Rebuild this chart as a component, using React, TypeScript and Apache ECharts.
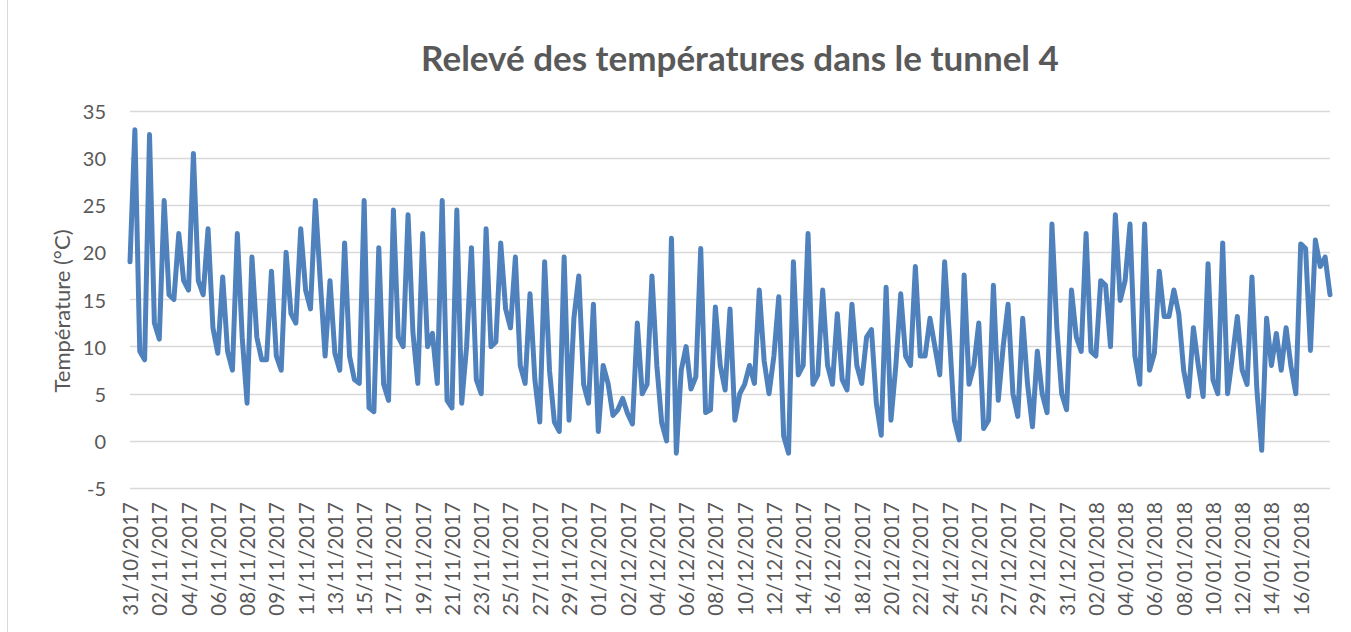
import React, { useEffect, useRef } from "react";
import * as echarts from "echarts";

const titleText = "Relevé des températures dans le tunnel 4";
const yAxisName = "Température (°C)";

const tickLabels = [
  "31/10/2017", "02/11/2017", "04/11/2017", "06/11/2017", "08/11/2017",
  "09/11/2017", "11/11/2017", "13/11/2017", "15/11/2017", "17/11/2017",
  "19/11/2017", "21/11/2017", "23/11/2017", "25/11/2017", "27/11/2017",
  "29/11/2017", "01/12/2017", "02/12/2017", "04/12/2017", "06/12/2017",
  "08/12/2017", "10/12/2017", "12/12/2017", "14/12/2017", "16/12/2017",
  "18/12/2017", "20/12/2017", "22/12/2017", "24/12/2017", "25/12/2017",
  "27/12/2017", "29/12/2017", "31/12/2017", "02/01/2018", "04/01/2018",
  "06/01/2018", "08/01/2018", "10/01/2018", "12/01/2018", "14/01/2018",
  "16/01/2018",
];

// readings between two consecutive tick labels
const readingsPerLabel = 6;

const temperatures = [
  19, 33, 9.5, 8.6, 32.5, 12.5, 10.8, 25.5, 15.5, 15,
  22, 17, 16, 30.5, 17, 15.5, 22.5, 12, 9.3, 17.4,
  9.5, 7.5, 22, 11, 4, 19.5, 11, 8.6, 8.6, 18,
  9, 7.5, 20, 13.5, 12.5, 22.5, 16, 14, 25.5, 17,
  9, 17, 9.3, 7.5, 21, 9, 6.5, 6.1, 25.5, 3.5,
  3.1, 20.5, 6, 4.3, 24.5, 11, 10, 24, 11.5, 6.1,
  22, 10, 11.4, 6.1, 25.5, 4.3, 3.5, 24.5, 4, 10,
  20.5, 6.5, 5, 22.5, 10, 10.5, 21, 14, 12, 19.5,
  8, 6.1, 15.6, 6.5, 2, 19, 7.5, 2, 1, 19.5,
  2.2, 13, 17.5, 6, 4, 14.5, 1, 8, 6.1, 2.7,
  3.3, 4.5, 2.9, 1.8, 12.5, 5, 6, 17.5, 8, 1.9,
  0, 21.5, -1.3, 7.5, 10, 5.5, 6.8, 20.4, 3, 3.3,
  14.2, 8, 5.4, 14, 2.2, 5, 6, 8, 6.1, 16,
  8.5, 5, 9, 15.3, 0.5, -1.3, 19, 7, 8, 22,
  6, 7, 16, 8, 6, 13.5, 6.5, 5.4, 14.5, 8,
  6.1, 11, 11.8, 4, 0.6, 16.3, 2.2, 8, 15.6, 9,
  8, 18.5, 9, 9, 13, 10, 7, 19, 11, 2.2,
  0.1, 17.6, 6, 8, 12.5, 1.3, 2.2, 16.5, 4.3, 10,
  14.5, 5, 2.6, 13, 6, 1.5, 9.5, 5, 3, 23,
  12, 5, 3.3, 16, 11, 9.5, 22, 9.5, 9, 17,
  16.5, 10, 24, 14.9, 17, 23, 9, 6, 23, 7.5,
  9.3, 18, 13.2, 13.2, 16, 13.5, 7.5, 4.7, 12, 8,
  4.7, 18.8, 6.5, 5, 21, 5, 8.9, 13.2, 7.5, 6,
  17.4, 5.5, -1, 13, 8, 11.4, 7.5, 12, 7.9, 5,
  20.9, 20.4, 9.6, 21.3, 18.5, 19.5, 15.5,
];

const yMin = -5;
const yMax = 35;
const yStep = 5;

const FONT = "Lato, 'Open Sans', sans-serif";
const GREY = "#595959";

export default function App() {
  const ref = useRef<HTMLDivElement>(null);

  useEffect(() => {
    if (!ref.current) return;
    const chart = echarts.init(ref.current, undefined, { renderer: "svg" });
    const categories = temperatures.map((_, i) => String(i));
    chart.setOption({
      animation: false,
      backgroundColor: "#ffffff",
      textStyle: { fontFamily: FONT },
      title: {
        text: titleText,
        left: 735,
        top: 34,
        textAlign: "center",
        textStyle: { fontFamily: FONT, fontSize: 35, fontWeight: "bold", color: GREY },
      },
      graphic: [
        {
          type: "line",
          shape: { x1: 7.5, y1: 0, x2: 7.5, y2: 632 },
          style: { stroke: "#d9d9d9", lineWidth: 1 },
        },
        {
          type: "text",
          x: 61,
          y: 311,
          rotation: Math.PI / 2,
          style: {
            text: yAxisName,
            fill: GREY,
            font: `22px ${FONT}`,
            align: "center",
            verticalAlign: "middle",
          },
        },
      ],
      grid: { left: 130, right: 21, top: 111, bottom: 144, containLabel: false },
      xAxis: {
        type: "category",
        data: categories,
        boundaryGap: false,
        axisLine: { show: false },
        axisTick: { show: false },
        splitLine: { show: false },
        axisLabel: {
          rotate: 90,
          interval: (index: number) => index % readingsPerLabel === 0,
          formatter: (_v: string, index: number) =>
            index % readingsPerLabel === 0 ? tickLabels[index / readingsPerLabel] ?? "" : "",
          color: GREY,
          fontFamily: FONT,
          fontSize: 20.5,
          margin: 14,
        },
      },
      yAxis: {
        type: "value",
        min: yMin,
        max: yMax,
        interval: yStep,
        axisLine: { show: false },
        axisTick: { show: false },
        axisLabel: { color: GREY, fontFamily: FONT, fontSize: 20, margin: 24 },
        splitLine: { lineStyle: { color: "#d9d9d9", width: 1.3 } },
      },
      series: [
        {
          type: "line",
          data: temperatures,
          showSymbol: false,
          symbol: "none",
          lineStyle: { color: "#4f81bd", width: 5, join: "round", cap: "round" },
          itemStyle: { color: "#4f81bd" },
        },
      ],
    });
    return () => chart.dispose();
  }, []);

  return (
    <div
      ref={ref}
      style={{ position: "fixed", left: 0, top: 0, width: 1351, height: 632 }}
    />
  );
}
